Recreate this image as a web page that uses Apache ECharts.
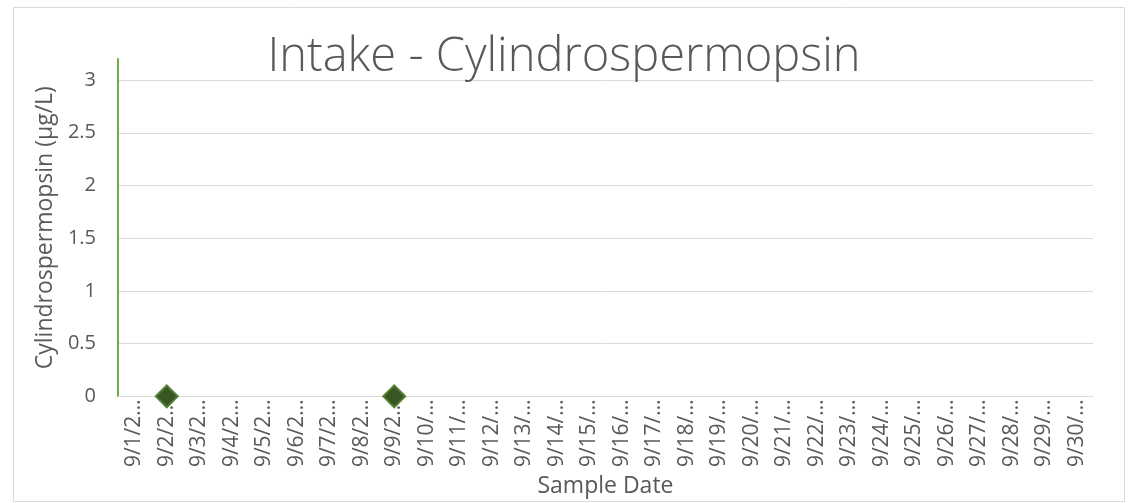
<!DOCTYPE html>
<html>
<head>
<meta charset="utf-8">
<script src="https://cdn.jsdelivr.net/npm/echarts@6/dist/echarts.min.js"></script>
<style>
  html, body { margin: 0; padding: 0; background: #fff; }
  #chart { width: 1128px; height: 503px; }
</style>
</head>
<body>
<div id="chart"></div>
<script>
// x categories, as shown on the axis (Excel cut them short)
var dateLabels = [
    '9/1/2…', '9/2/2…', '9/3/2…', '9/4/2…', '9/5/2…', '9/6/2…', '9/7/2…', '9/8/2…', '9/9/2…',
    '9/10/…', '9/11/…', '9/12/…', '9/13/…', '9/14/…', '9/15/…', '9/16/…', '9/17/…', '9/18/…',
    '9/19/…', '9/20/…', '9/21/…', '9/22/…', '9/23/…', '9/24/…', '9/25/…', '9/26/…', '9/27/…',
    '9/28/…', '9/29/…', '9/30/…'
];
// sampled days and their results (µg/L)
var sampleDates = ['9/2/2…', '9/9/2…'];
var sampleValues = [0, 0];

var grey = '#595959';
var font = '"Open Sans", "Noto Sans", sans-serif';

var points = sampleDates.map(function (d, i) {
    return [d, sampleValues[i]];
});

var chart = echarts.init(document.getElementById('chart'));
var option = {
    animation: false,
    textStyle: { fontFamily: font },
    title: {
        text: 'Intake - Cylindrospermopsin',
        left: 'center',
        top: 29,
        textStyle: {
            fontFamily: font,
            fontSize: 47,
            fontWeight: 300,
            color: grey
        }
    },
    graphic: [{
        // the chart area frame
        type: 'rect',
        silent: true,
        shape: { x: 13.5, y: 7.5, width: 1111, height: 494 },
        style: { fill: 'none', stroke: '#d9d9d9', lineWidth: 1 }
    }],
    grid: {
        left: 118,
        right: 35,
        top: 59,
        bottom: 103
    },
    xAxis: {
        type: 'category',
        data: dateLabels,
        name: 'Sample Date',
        nameLocation: 'middle',
        nameGap: 70,
        nameTextStyle: { fontSize: 23, color: grey },
        axisLine: { lineStyle: { color: '#d9d9d9', width: 1 } },
        axisTick: { show: false },
        axisLabel: {
            interval: 0,
            rotate: 90,
            margin: 3,
            fontSize: 21,
            color: grey
        }
    },
    yAxis: {
        type: 'value',
        min: 0,
        max: 3.2,
        interval: 0.5,
        name: 'Cylindrospermopsin (µg/L)',
        nameLocation: 'middle',
        nameGap: 60,
        nameTextStyle: { fontSize: 23, color: grey },
        axisLine: { show: true, lineStyle: { color: '#70AD47', width: 2 } },
        axisTick: { show: false },
        axisLabel: {
            showMaxLabel: false,
            margin: 22,
            fontSize: 20,
            color: grey
        },
        splitLine: {
            showMaxLine: false,
            lineStyle: { color: '#d9d9d9', width: 1 }
        }
    },
    series: [{
        type: 'scatter',
        data: points,
        symbol: 'diamond',
        symbolSize: 22,
        clip: false,
        itemStyle: {
            color: '#375623',
            borderColor: '#548235',
            borderWidth: 2,
            opacity: 1
        }
    }]
};
chart.setOption(option);
</script>
</body>
</html>
